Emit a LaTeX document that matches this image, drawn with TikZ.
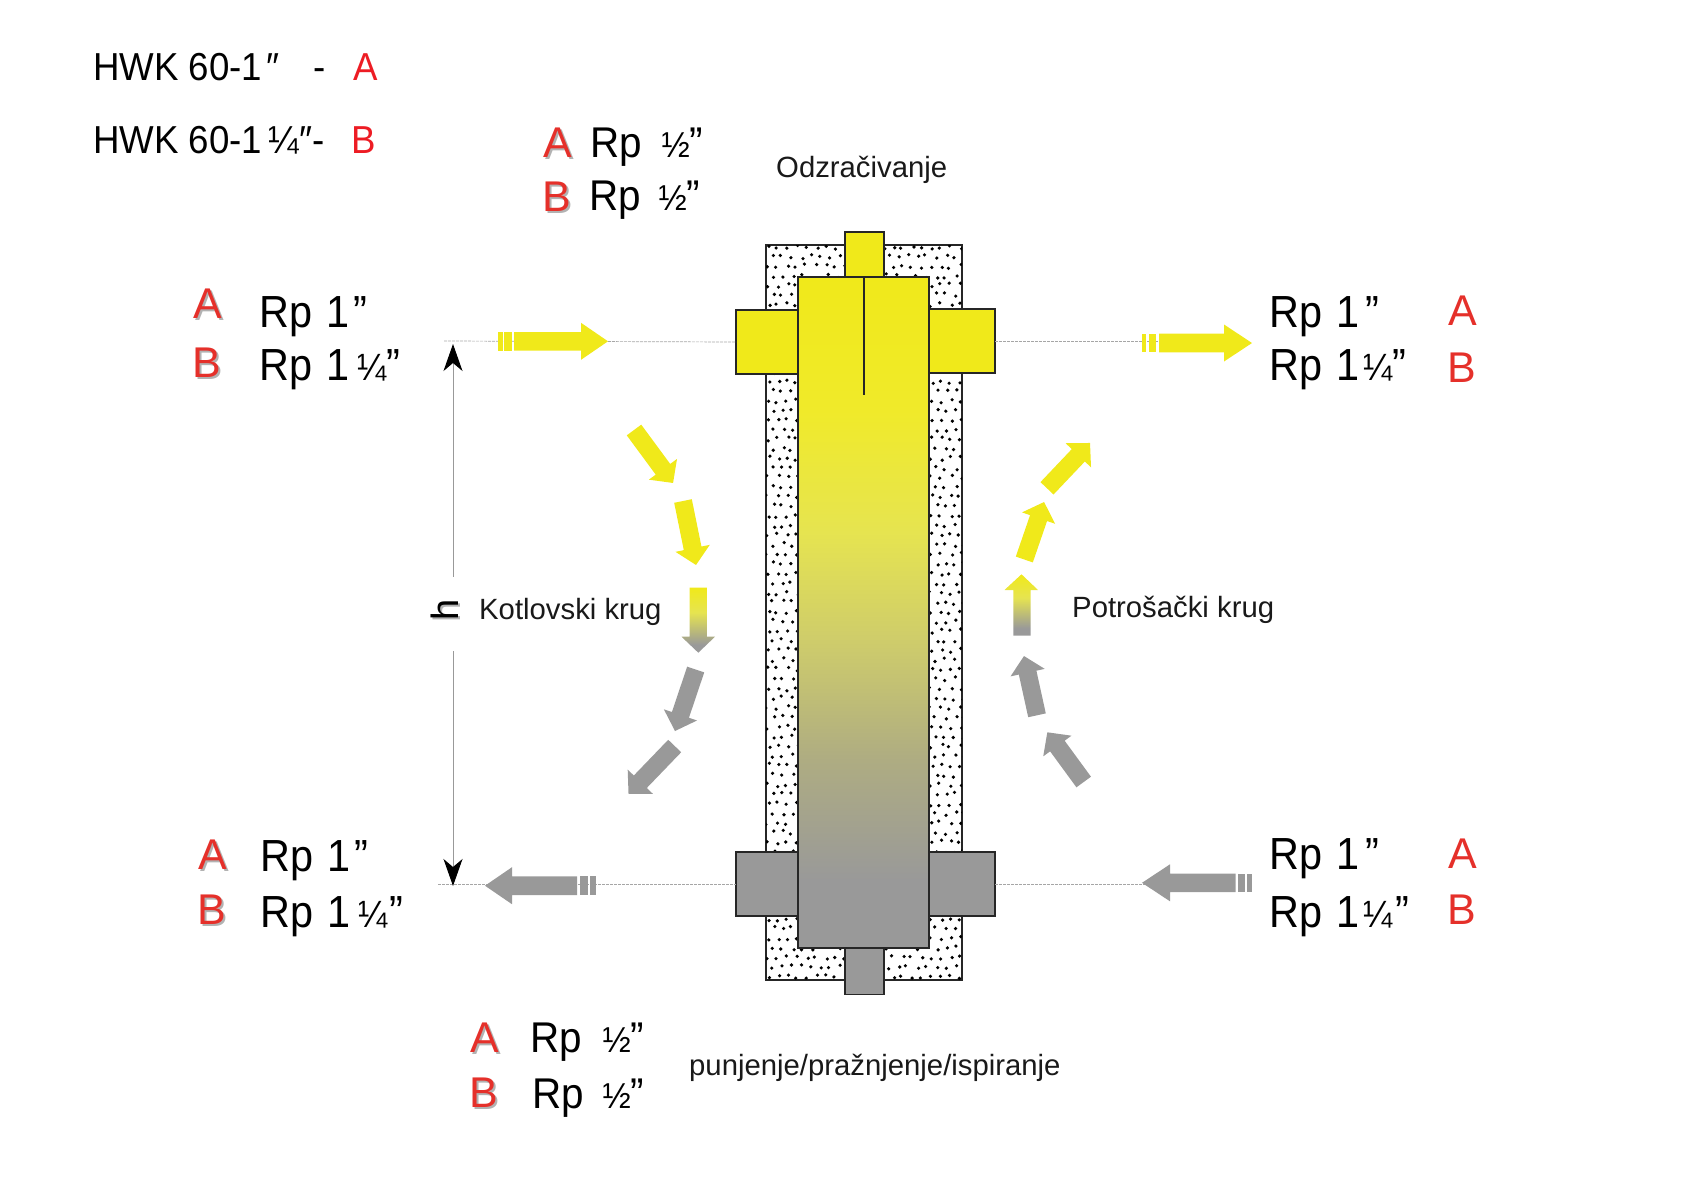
\documentclass[tikz,border=0pt]{standalone}
\usepackage{fontspec}
\setmainfont{Liberation Sans}
\usetikzlibrary{arrows.meta}
\definecolor{flowyellow}{HTML}{F0E91A}
\definecolor{flowgrey}{HTML}{999999}
\definecolor{labelred}{HTML}{E5302A}
\definecolor{keyred}{HTML}{ED1C24}
\definecolor{lineink}{HTML}{262626}
\definecolor{fadea}{HTML}{AEAC82}
\definecolor{fadeb}{HTML}{CDCB6C}
\definecolor{fadec}{HTML}{E6E450}
\definecolor{fadet}{HTML}{F0EA2A}
\pgfdeclareverticalshading{bodyfade}{100bp}{
  color(0bp)=(flowgrey); color(30bp)=(flowgrey);
  color(39bp)=(fadea); color(47.5bp)=(fadeb); color(56bp)=(fadec);
  color(65bp)=(fadet); color(75bp)=(flowyellow); color(100bp)=(flowyellow)}
\pgfdeclareverticalshading{mixfade}{100bp}{
  color(0bp)=(flowgrey); color(31bp)=(flowgrey);
  color(56bp)=(fadec); color(75bp)=(flowyellow); color(100bp)=(flowyellow)}
\tikzset{
  pipebox/.style={draw=lineink, line width=1.3pt, inner sep=0pt, outer sep=0pt},
  guideline/.style={gray!70, line width=.7pt, dash pattern=on 3pt off 1pt},
  rplarge/.style={anchor=base west, inner sep=0pt, font=\fontsize{45}{45}\selectfont, xscale=.92, transform shape},
  rpmid/.style={anchor=base west, inner sep=0pt, font=\fontsize{43}{43}\selectfont, xscale=.94, transform shape},
  plainlabel/.style={anchor=base west, inner sep=0pt, font=\fontsize{29.3}{29.3}\selectfont, text=black!90},
  keylabel/.style={anchor=base west, inner sep=0pt, font=\fontsize{39}{39}\selectfont, xscale=.94, transform shape},
  letterred/.style={anchor=base west, inner sep=0pt, font=\fontsize{43}{43}\selectfont, text=labelred},
  lettershade/.style={letterred, text=black!30}
}
\newcommand{\qfrac}{{\fontsize{38}{38}\selectfont ¼}}
\newcommand{\hfrac}{{\fontsize{36}{36}\selectfont ½}}
\begin{document}
\begin{tikzpicture}[x=1pt, y=-1pt]
        \useasboundingbox (0,0) rectangle (1687,1192);
        % insulation
        \draw[lineink, line width=1.2pt] (766,245) rectangle (962,980);
        \begin{scope}
        \clip (766,245) rectangle (962,980);
        \pgfmathsetseed{11}
        \foreach \i in {0,...,20}{
        \foreach \j in {0,...,76}{
        \fill ({768+\i*9.6+4.8*mod(\j,2)+2.2*rand},{247+\j*9.6+2.2*rand}) circle (1.8pt);
        }
        }
        \end{scope}
        % stubs and flanges
        \node[pipebox, fill=flowyellow, minimum width=39pt, minimum height=46pt] (stubtop) at (864.5,255) {};
        \node[pipebox, fill=flowgrey, minimum width=39pt, minimum height=47pt] (stubbot) at (864.5,971) {};
        \node[pipebox, fill=flowyellow, minimum width=62pt, minimum height=64pt] (flangetl) at (767,342) {};
        \node[pipebox, fill=flowyellow, minimum width=66pt, minimum height=64pt] (flangetr) at (962,341) {};
        \node[pipebox, fill=flowgrey, minimum width=62pt, minimum height=64pt] (flangebl) at (767,884) {};
        \node[pipebox, fill=flowgrey, minimum width=66pt, minimum height=64pt] (flangebr) at (962,884) {};
        % body
        \shade[shading=bodyfade] (798,277) rectangle (929,948);
        \draw[lineink, line width=1.3pt] (798,277) rectangle (929,948);
        \draw[lineink, line width=1.5pt] (864,277) -- (864,395);
        % guide lines
        \coordinate (guidetl) at (444,341);
        \coordinate (guidetr) at (1160,341);
        \coordinate (guidebl) at (438,884);
        \coordinate (guidebr) at (1145,884);
        \draw[guideline] (guidetl) -- (flangetl.west);
        \draw[guideline] (flangetr.east) -- (guidetr);
        \draw[guideline] (guidebl) -- (flangebl.west);
        \draw[guideline] (flangebr.east) -- (guidebr);
        % height arrow
        \coordinate (dimtop) at (453,344);
        \coordinate (dimupper) at (453,577);
        \coordinate (dimlower) at (453,651);
        \coordinate (dimbot) at (453,886);
        \draw[flowgrey, line width=1pt, {Stealth[length=27pt, width=19pt, inset=8pt, black]}-] (dimtop) -- (dimupper);
        \draw[flowgrey, line width=1pt, -{Stealth[length=27pt, width=19pt, inset=8pt, black]}] (dimlower) -- (dimbot);
        % curved flow arrows
        \foreach \x/\y/\a/\l/\c in {634/430/-53.6/65.8/flowyellow, 683/501/-78.5/65.3/flowyellow, 695.7/669.5/-108.6/64.9/flowgrey, 674.7/746/-133.9/66.6/flowgrey, 1047/488.3/46.5/62.5/flowyellow, 1024.3/559.5/71/60.8/flowyellow, 1037/715.3/102.4/60.7/flowgrey, 1083.7/782/126.2/61.6/flowgrey}{
        \fill[\c, shift={(\x,\y)}, rotate=\a] (0,-9) -- (\l-17,-9) -- (\l-17,-17.5) -- (\l,0) -- (\l-17,17.5) -- (\l-17,9) -- (0,9) -- cycle;
        }
        \shade[shading=mixfade] (689.5,587.7) -- (706.8,587.7) -- (706.8,636.7) -- (715,636.7) -- (698.3,652.7) -- (681.5,636.7) -- (689.5,636.7) -- cycle;
        \shade[shading=mixfade] (1013.3,635.7) -- (1030.7,635.7) -- (1030.7,590) -- (1038,590) -- (1021.5,574.3) -- (1004.5,590) -- (1013.3,590) -- cycle;
        % straight flow arrows with their tail stripes
        \foreach \x/\y/\a/\l/\h/\c in {514/341.3/0/94/27/flowyellow, 1159/343/0/93/28/flowyellow, 577/885.7/180/92/27/flowgrey, 1235.7/882.8/180/93.7/28/flowgrey}{
        \fill[\c, shift={(\x,\y)}, rotate=\a] (0,-9.3) -- (\l-\h,-9.3) -- (\l-\h,-18.5) -- (\l,0) -- (\l-\h,18.5) -- (\l-\h,9.3) -- (0,9.3) -- cycle;
        }
        \foreach \xa/\xb/\y/\c in {497.5/502.5/341.3/flowyellow, 504/512/341.3/flowyellow, 1141.7/1146/343/flowyellow, 1149/1156/343/flowyellow, 580/587.6/885.7/flowgrey, 590/595.5/885.7/flowgrey, 1238/1245/882.8/flowgrey, 1247/1251.7/882.8/flowgrey}{
        \fill[\c] (\xa,\y-9.3) rectangle (\xb,\y+9.3);
        }
        % key at the top
        \node[keylabel] (keya) at (93,80) {HWK 60-1\hspace{5pt}″};
        \node[keylabel] (dasha) at (313,80) {-};
        \node[keylabel, text=keyred] (lettera) at (353,80) {A};
        \node[keylabel] (keyb) at (93,153) {HWK 60-1\hspace{7pt}¼″};
        \node[keylabel] (dashb) at (312,153) {-};
        \node[keylabel, text=keyred] (letterb) at (351,153) {B};
        % red letters
        \foreach \n/\x/\y/\t in {topa/543/157/A, topb/542/211/B, lefta/193/318/A, leftb/192/377/B, lowa/198/869/A, lowb/197/924/B, bota/470/1052/A, botb/469/1107/B}{
        \node[lettershade] at (\x+2,\y+2) {\t};
        \node[letterred] (\n) at (\x,\y) {\t};
        }
        \foreach \n/\x/\y/\t in {righta/1448/325/A, rightb/1447/382/B, rlowa/1448/868.5/A, rlowb/1447/924/B}{
        \node[letterred] (\n) at (\x,\y) {\t};
        }
        % pipe sizes
        \node[rpmid] (rptopa) at (590,157) {Rp\hspace{21pt}\hfrac”};
        \node[rpmid] (rptopb) at (589,210) {Rp\hspace{19pt}\hfrac”};
        \node[rplarge] (rplefta) at (259,327) {Rp\hspace{16pt}1\hspace{4pt}”};
        \node[rplarge] (rpleftb) at (259,380) {Rp\hspace{16pt}1\hspace{8pt}\qfrac”};
        \node[rplarge] (rplowa) at (260,871) {Rp\hspace{16pt}1\hspace{4pt}”};
        \node[rplarge] (rplowb) at (260,927) {Rp\hspace{16pt}1\hspace{8pt}\qfrac\hspace{2pt}”};
        \node[rpmid] (rpbota) at (530,1052) {Rp\hspace{22pt}\hfrac”};
        \node[rpmid] (rpbotb) at (532,1108) {Rp\hspace{20pt}\hfrac”};
        \node[rplarge] (rprighta) at (1269,327) {Rp\hspace{16pt}1\hspace{6pt}”};
        \node[rplarge] (rprightb) at (1269,380) {Rp\hspace{16pt}1\hspace{4pt}\qfrac”};
        \node[rplarge] (rprlowa) at (1269,869) {Rp\hspace{16pt}1\hspace{6pt}”};
        \node[rplarge] (rprlowb) at (1269,927) {Rp\hspace{16pt}1\hspace{4pt}\qfrac\hspace{3pt}”};
        % circuit names
        \node[plainlabel] (vent) at (776,177) {Odzračivanje};
        \node[plainlabel] (boiler) at (479,619) {Kotlovski krug};
        \node[plainlabel] (consumer) at (1072,617) {Potrošački krug};
        \node[plainlabel] (fill) at (689,1075) {punjenje/pražnjenje/ispiranje};
        \node[inner sep=0pt, rotate=90, font=\fontsize{38}{38}\selectfont, text=black!30] at (447,612) {h};
        \node[inner sep=0pt, rotate=90, font=\fontsize{38}{38}\selectfont] (height) at (445,610) {h};
\end{tikzpicture}
\end{document}
